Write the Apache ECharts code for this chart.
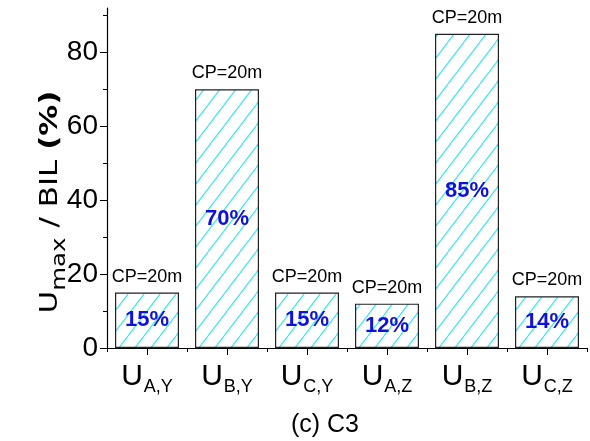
<!DOCTYPE html>
<html>
<head>
<meta charset="utf-8">
<script src="https://cdn.jsdelivr.net/npm/echarts@6/dist/echarts.min.js"></script>
<style>
  html, body { margin: 0; padding: 0; background: #fff; }
  #chart { width: 590px; height: 441px; }
</style>
</head>
<body>
<div id="chart"></div>
<script>
// Phase voltage peaks relative to BIL, case C3
const subscripts = ['A,Y', 'B,Y', 'C,Y', 'A,Z', 'B,Z', 'C,Z'];
const ratios = [15, 70, 15, 12, 85, 14];
const yTicks = [0, 20, 40, 60, 80];
const yMinorTicks = [10, 30, 50, 70, 90];
const cpText = 'CP=20m';
const caption = '(c) C3';
const yTitle = '{u|U}{s|max}{t| / BIL }{b|(%)}';

const narrow = "'Liberation Sans Narrow', 'Arial Narrow', 'Liberation Sans', Arial, sans-serif";

// diagonal hatch tile
function hatchTile() {
  const w = 16, h = 21;
  const c = document.createElement('canvas');
  c.width = w; c.height = h;
  const ctx = c.getContext('2d');
  ctx.fillStyle = '#ffffff';
  ctx.fillRect(0, 0, w, h);
  ctx.strokeStyle = '#2ee8f4';
  ctx.lineWidth = 1.1;
  for (const off of [-w, 0, w]) {
    ctx.beginPath();
    ctx.moveTo(off, h);
    ctx.lineTo(off + w, 0);
    ctx.stroke();
  }
  return c;
}

const chart = echarts.init(document.getElementById('chart'), null, { renderer: 'canvas' });

const yMax = 92;

chart.setOption({
  animation: false,
  backgroundColor: '#ffffff',
  grid: { left: 107, right: 3, top: 8, bottom: 93, containLabel: false },
  title: {
    text: caption,
    left: 320,
    top: 408,
    textAlign: 'center',
    textStyle: { fontFamily: narrow, fontSize: 25, fontWeight: 'normal', color: '#000' }
  },
  // vertical axis title, stretched along its reading direction
  graphic: [
    {
      type: 'text',
      x: 52,
      y: 202,
      rotation: Math.PI / 2,
      scaleX: 1.29,
      style: {
        text: yTitle,
        align: 'center',
        verticalAlign: 'middle',
        rich: {
          u: { fontFamily: 'DejaVu Sans', fontSize: 24, fill: '#000', lineHeight: 26, verticalAlign: 'top' },
          s: { fontFamily: 'DejaVu Sans', fontSize: 19, fill: '#000', lineHeight: 19, padding: [12, 0, 0, 0], verticalAlign: 'top' },
          t: { fontFamily: 'DejaVu Sans', fontSize: 24, fill: '#000', lineHeight: 26, verticalAlign: 'top' },
          b: { fontFamily: 'DejaVu Sans', fontSize: 24, fontWeight: 'bold', fill: '#000', lineHeight: 26, verticalAlign: 'top' }
        }
      }
    }
  ],
  xAxis: [
    {
      type: 'category',
      data: subscripts,
      position: 'bottom',
      axisLine: { lineStyle: { color: '#000', width: 1.2 } },
      axisTick: { show: true, length: 4, lineStyle: { color: '#000' } },
      axisLabel: {
        interval: 0,
        margin: 14,
        formatter: (v) => '{u|U}{s|' + v + '}',
        rich: {
          u: { fontFamily: narrow, fontSize: 30, color: '#000', lineHeight: 30, verticalAlign: 'top' },
          s: { fontFamily: narrow, fontSize: 18, color: '#000', lineHeight: 18, padding: [16, 0, 0, 1], verticalAlign: 'top' }
        }
      },
      splitLine: { show: false }
    },
    {
      type: 'category',
      data: subscripts,
      position: 'bottom',
      axisLine: { show: false },
      axisTick: { show: true, alignWithLabel: true, length: 7, lineStyle: { color: '#000' } },
      axisLabel: { show: false },
      splitLine: { show: false }
    }
  ],
  yAxis: [
    {
      type: 'value',
      min: 0,
      max: yMax,
      interval: 20,
      axisLine: { show: true, lineStyle: { color: '#000', width: 1.2 } },
      axisTick: { show: true, length: 7, customValues: yTicks, lineStyle: { color: '#000' } },
      axisLabel: {
        customValues: yTicks,
        margin: 9,
        fontFamily: narrow,
        fontSize: 28,
        color: '#000'
      },
      splitLine: { show: false }
    },
    {
      type: 'value',
      min: 0,
      max: yMax,
      interval: 10,
      position: 'left',
      axisLine: { show: false },
      axisTick: { show: true, length: 4, customValues: yMinorTicks, lineStyle: { color: '#000' } },
      axisLabel: { show: false },
      splitLine: { show: false }
    }
  ],
  series: [
    {
      type: 'bar',
      xAxisIndex: 0,
      yAxisIndex: 0,
      data: ratios,
      barWidth: 64,
      itemStyle: {
        color: { image: hatchTile(), repetition: 'repeat' },
        borderColor: '#222',
        borderWidth: 1.2
      },
      label: {
        show: true,
        position: 'inside',
        formatter: (p) => p.value + '%',
        fontFamily: narrow,
        fontSize: 22,
        fontWeight: 'bold',
        color: '#1010e0'
      },
      z: 2
    },
    {
      type: 'bar',
      xAxisIndex: 0,
      yAxisIndex: 0,
      data: ratios,
      barWidth: 64,
      barGap: '-100%',
      itemStyle: { color: 'rgba(0,0,0,0)' },
      label: {
        show: true,
        position: 'top',
        distance: 7,
        formatter: cpText,
        fontFamily: narrow,
        fontSize: 18,
        color: '#000'
      },
      z: 3
    }
  ]
});
</script>
</body>
</html>
